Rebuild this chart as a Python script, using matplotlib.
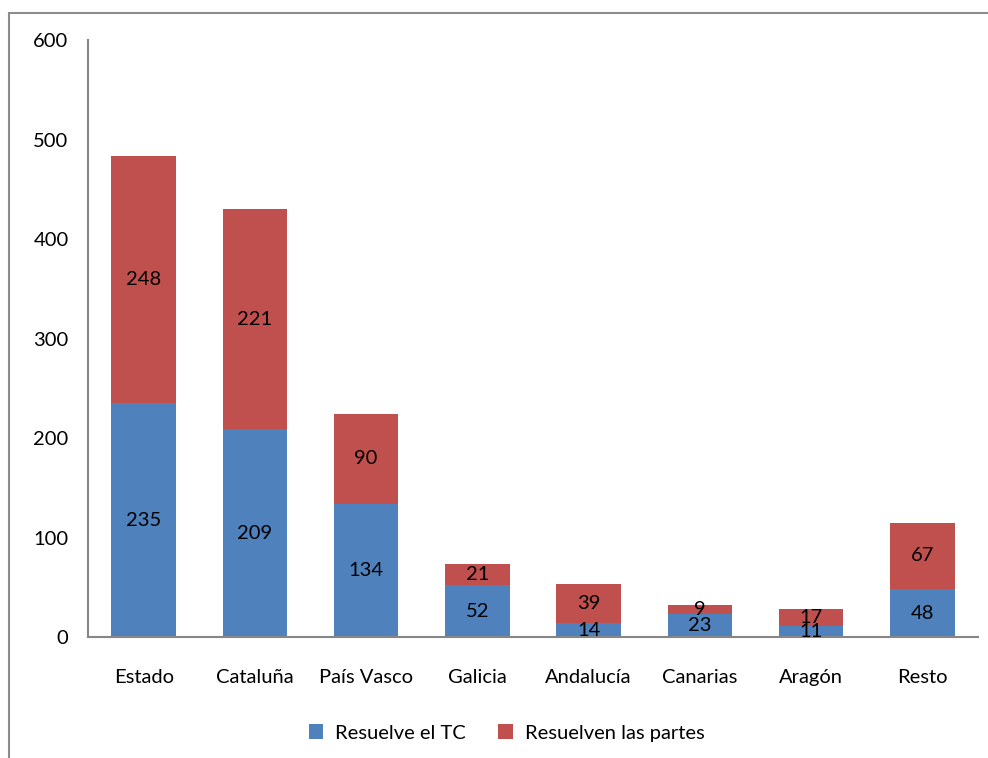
import matplotlib
matplotlib.use("Agg")
import matplotlib.pyplot as plt
from matplotlib.patches import Rectangle

# recursos por comunidad
regiones = ["Estado", "Cataluña", "País Vasco", "Galicia", "Andalucía",
            "Canarias", "Aragón", "Resto"]
resuelve_tc = [235, 209, 134, 52, 14, 23, 11, 48]
resuelven_partes = [248, 221, 90, 21, 39, 9, 17, 67]

azul = "#4F81BD"
rojo = "#C0504D"
gris = "#868686"

plt.rcParams["font.family"] = ["Lato", "DejaVu Sans"]

fig = plt.figure(figsize=(9.88, 7.58), dpi=100)
ax = fig.add_axes([0.0891, 0.1596, 0.9008, 0.7876])

x = range(len(regiones))
b1 = ax.bar(x, resuelve_tc, width=0.58, color=azul, label="Resuelve el TC")
b2 = ax.bar(x, resuelven_partes, width=0.58, bottom=resuelve_tc, color=rojo,
            label="Resuelven las partes")
ax.bar_label(b1, label_type="center", fontsize=14.5)
ax.bar_label(b2, label_type="center", fontsize=14.5)

ax.set_ylim(0, 600)
ax.set_xlim(-0.5, len(regiones) - 0.5)
ax.set_yticks(range(0, 601, 100))
ax.set_xticks(list(x))
ax.set_xticklabels(regiones)
ax.tick_params(axis="y", length=0, pad=14, labelsize=14.5)
ax.tick_params(axis="x", length=0, pad=23, labelsize=14.5)

for s in ["top", "right"]:
    ax.spines[s].set_visible(False)
for s in ["left", "bottom"]:
    ax.spines[s].set_color(gris)
    ax.spines[s].set_linewidth(1.5)

fig.legend(loc="center", bbox_to_anchor=(0.513, 0.033), ncol=2, frameon=False,
           fontsize=14.5, handlelength=0.7, handleheight=0.7,
           columnspacing=1.6, handletextpad=0.6)

# marco exterior del gráfico
fig.add_artist(Rectangle((8.5 / 988, -0.05), 1.2, 1.05 - 13 / 758,
                         transform=fig.transFigure, fill=False,
                         edgecolor="#8c8c8c", linewidth=1.5, clip_on=False))

fig.savefig("out.png", dpi=100)
